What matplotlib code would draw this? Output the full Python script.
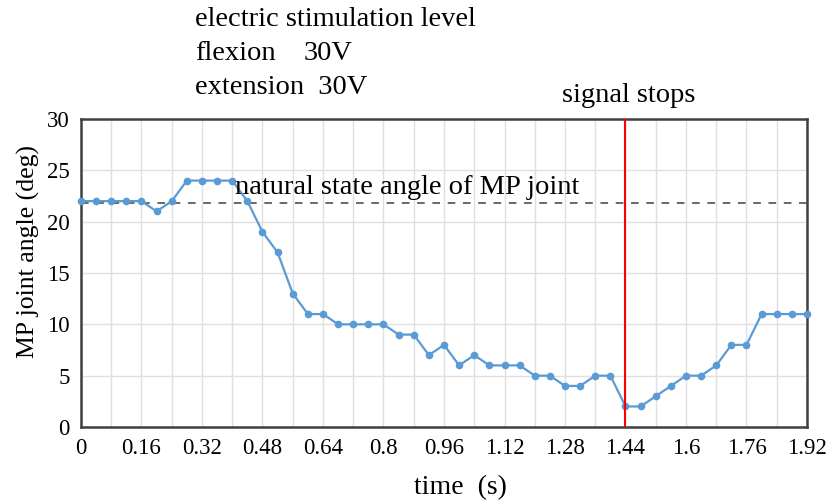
import numpy as np
import matplotlib
matplotlib.use("Agg")
import matplotlib.pyplot as plt

plt.rcParams['font.family'] = ['Liberation Serif', 'DejaVu Serif']

# time steps (s) and MP joint angle (deg)
time_s = np.arange(49) * 0.04
angle = [22, 22, 22, 22, 22, 21, 22, 24, 24, 24, 24, 22, 19, 17, 13, 11, 11,
         10, 10, 10, 10, 9, 9, 7, 8, 6, 7, 6, 6, 6, 5, 5, 4, 4, 5, 5, 2,
         2, 3, 4, 5, 5, 6, 8, 8, 11, 11, 11, 11]
x_ticks = [0, 0.16, 0.32, 0.48, 0.64, 0.8, 0.96, 1.12, 1.28, 1.44, 1.6, 1.76, 1.92]
y_ticks = [0, 5, 10, 15, 20, 25, 30]
natural_angle = 21.8
stop_time = 1.44

W, H = 829, 504
fig = plt.figure(figsize=(W / 100, H / 100), dpi=100)
ax = fig.add_axes([81 / W, (H - 427) / H, 726 / W, 308 / H])

ax.set_xlim(0, 1.92)
ax.set_ylim(0, 30)
ax.set_xticks(x_ticks)
ax.set_xticklabels([('%g' % t) for t in x_ticks])
ax.set_xticks(np.arange(0.08, 1.92, 0.16), minor=True)
ax.set_yticks(y_ticks)
ax.tick_params(axis='both', which='both', length=0, labelsize=16.5, pad=8)
ax.grid(True, which='both', color='#e0e0e0', lw=1)
ax.set_axisbelow(True)
for s in ax.spines.values():
    s.set_color('#404040')
    s.set_linewidth(1.8)

ax.axhline(natural_angle, color='#404040', ls=(0, (5, 5)), lw=1.1, zorder=2)
ax.axvline(stop_time, color='#ff0000', lw=1.5, zorder=4)
ax.plot(time_s, angle, color='#5b9bd5', lw=1.6, marker='o', ms=4.5,
        zorder=3, clip_on=False)

fig.text(235 / W, 1 - 188 / H, 'natural state angle of MP joint',
         fontsize=20.5, va='center', ha='left')
fig.text(629 / W, 1 - 95 / H, 'signal stops', fontsize=20.5,
         va='center', ha='center')
fig.text(195 / W, 1 - 20 / H, 'electric stimulation level', fontsize=20.5,
         va='center', ha='left')
fig.text(195 / W, 1 - 53 / H, 'flexion', fontsize=20.5, va='center', ha='left')
fig.text(304 / W, 1 - 53 / H, '30V', fontsize=20.5, va='center', ha='left')
fig.text(195 / W, 1 - 87 / H, 'extension  30V', fontsize=20.5,
         va='center', ha='left')

fig.text(28 / W, 1 - 252 / H, 'MP joint angle (deg)', fontsize=18.5,
         rotation=90, va='center', ha='center')
fig.text(460 / W, 1 - 488 / H, 'time  (s)', fontsize=20,
         va='center', ha='center')

fig.savefig('out.png', dpi=100)
